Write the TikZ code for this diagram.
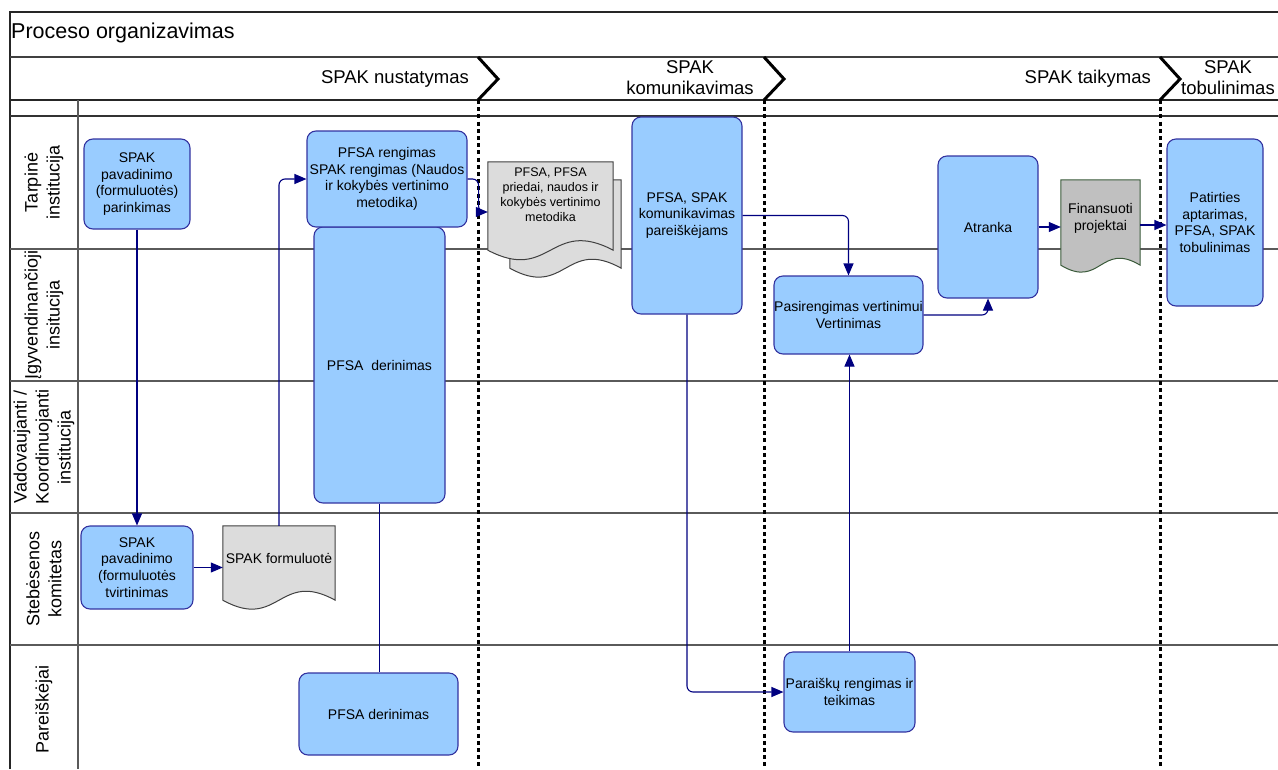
\documentclass[tikz,border=0pt]{standalone}
\usepackage{fontspec}
\setmainfont{Liberation Sans}
\usetikzlibrary{arrows.meta,calc}

\definecolor{boxfill}{HTML}{99CCFF}
\definecolor{boxline}{HTML}{3333A0}
\definecolor{flow}{HTML}{000080}
\definecolor{docfill}{HTML}{DCDCDC}
\definecolor{docline}{HTML}{404040}
\definecolor{fundfill}{HTML}{C0C0C0}
\definecolor{fundline}{HTML}{3A5A3A}
\definecolor{lane}{HTML}{5A5A5A}

\pgfdeclarelayer{back}
\pgfdeclarelayer{docs}
\pgfsetlayers{back,docs,main}

\tikzset{
  proc/.style={draw=boxline, fill=boxfill, line width=1.1pt, rounded corners=9pt,
    align=center, inner sep=0pt, font=\fontsize{14}{16.7}\selectfont},
  doctext/.style={inner sep=0pt, align=center},
  docbody/.style={draw=docline, fill=docfill, line width=1pt},
  fundbody/.style={draw=fundline, fill=fundfill, line width=1pt},
  conn/.style={draw=flow, line width=1.1pt, rounded corners=6pt,
    -{Triangle[length=12pt,width=10pt]}},
  link/.style={draw=flow, line width=1.1pt, rounded corners=6pt},
  lanelabel/.style={rotate=90, align=center, inner sep=0pt,
    font=\fontsize{18}{22}\selectfont},
  phase/.style={font=\fontsize{18.5}{21}\selectfont, align=center, inner sep=0pt},
  stageline/.style={line width=3pt, dash pattern=on 4pt off 3.2pt},
  chevron/.style={line width=3pt, line join=miter},
  gridline/.style={line width=1.2pt, lane},
}

% document outline: straight top and sides, wavy bottom
% #1 node, #2 drop of the sides below the node, #3 wave control offset, #4 style
\newcommand\docoutline[4]{%
  \draw[#4] ($(#1.south west)+(0,#2)$) -- (#1.north west) -- (#1.north east)
    -- ($(#1.south east)+(0,#2)$)
    .. controls ($(#1.south)+(0,#2-#3)$) and ($(#1.south)+(0,#2+#3)$)
    .. ($(#1.south west)+(0,#2)$) -- cycle;}

\begin{document}
\begin{tikzpicture}[x=1pt,y=-1pt]
\useasboundingbox (0,0) rectangle (1278,769);

% frame, header rows and swimlanes
\begin{pgfonlayer}{back}
  \draw[line width=1.2pt, black!85] (10,769) -- (10,12) -- (1278,12);
  \draw[line width=1.2pt, black!75] (10,57) -- (1278,57);
  \draw[line width=1.5pt, black!85] (10,100) -- (1278,100);
  \draw[line width=1.2pt, black!80] (10,116) -- (1278,116);
  \draw[gridline] (78,100) -- (78,769);
  \foreach \y in {249,381,513,645}
    \draw[gridline] (10,\y) -- (1278,\y);
  \foreach \x in {478,764,1160} {
    \draw[chevron] (\x,57) -- (\x+20,79) -- (\x,100);
    \draw[stageline] (\x,100) -- (\x,769);
  }
\end{pgfonlayer}

\node[anchor=west, inner sep=0pt, font=\fontsize{21.5}{24}\selectfont] (title) at (11,33) {Proceso organizavimas};

% phases
\node[phase, anchor=east] (ph1) at (469,79) {SPAK nustatymas};
\node[phase] (ph2) at (690,78) {SPAK\\komunikavimas};
\node[phase, anchor=east] (ph3) at (1151,79) {SPAK taikymas};
\node[phase] (ph4) at (1228,78) {SPAK\\tobulinimas};

% lanes
\node[lanelabel] (ln1) at (44,182.5) {Tarpinė\\institucija};
\node[lanelabel] (ln2) at (44,315) {Įgyvendinančioji\\insitucija};
\node[lanelabel] (ln3) at (44,447) {Vadovaujanti /\\Koordinuojanti\\institucija};
\node[lanelabel] (ln4) at (44,579) {Stebėsenos\\komitetas};
\node[lanelabel] (ln5) at (44,709) {Pareiškėjai};

% process steps
\node[proc, minimum width=106pt, minimum height=90pt] (A) at (137,184)
  {SPAK\\pavadinimo\\(formuluotės)\\parinkimas};
\node[proc, minimum width=131pt, minimum height=276pt] (C) at (379.5,365)
  {PFSA\ \ derinimas};
\node[proc, minimum width=160pt, minimum height=96pt] (B) at (387,179)
  {PFSA rengimas\\SPAK rengimas (Naudos\\ir kokybės vertinimo\\metodika)};
\node[proc, minimum width=112pt, minimum height=83pt] (D) at (137,567.5)
  {SPAK\\pavadinimo\\(formuluotės\\tvirtinimas};
\node[proc, minimum width=159pt, minimum height=82pt] (F) at (378.5,714)
  {PFSA derinimas};
\node[proc, minimum width=110pt, minimum height=197pt] (H) at (687,215.5)
  {PFSA, SPAK\\komunikavimas\\pareiškėjams};
\node[proc, minimum width=149pt, minimum height=78pt] (I) at (848.5,315)
  {Pasirengimas vertinimui\\Vertinimas};
\node[proc, minimum width=100pt, minimum height=142pt] (J) at (988,227)
  {Atranka};
\node[proc, minimum width=96pt, minimum height=167pt] (L) at (1215,222.5)
  {Patirties\\aptarimas,\\PFSA, SPAK\\tobulinimas};
\node[proc, minimum width=131pt, minimum height=80pt] (M) at (849.5,692)
  {Paraiškų rengimas ir\\teikimas};

% documents
\node[doctext, minimum width=112pt, minimum height=64pt, font=\fontsize{14}{16.7}\selectfont]
  (E) at (279,558) {SPAK formuluotė};
\node[doctext, minimum width=125pt, minimum height=65pt, font=\fontsize{12.5}{15}\selectfont]
  (G) at (550.5,194.5) {PFSA, PFSA\\priedai, naudos ir\\kokybės vertinimo\\metodika};
\node[doctext, minimum width=111pt, minimum height=65pt] (G2) at (565.5,212.5) {};
\node[doctext, minimum width=79pt, minimum height=76pt, font=\fontsize{14}{17}\selectfont]
  (K) at (1100.5,218) {Finansuoti\\projektai};

\begin{pgfonlayer}{docs}
  \docoutline{E}{10}{31}{docbody}
  \docoutline{G2}{23}{31}{docbody}
  \docoutline{G}{23}{33}{docbody}
  \docoutline{K}{9}{24}{fundbody}
\end{pgfonlayer}

% flows
\coordinate (gin) at ($(G.west)+(0,17.5)$);
\coordinate (kout) at ($(K.east)+(0,7)$);

\draw[conn] (A.south) -- (D.north);
\draw[conn] (D.east) -- (D.east -| E.west);
\draw[conn] (E.north) |- (B.west);
\draw[link] (C.south) -- (C.south |- F.north);
\draw[conn] (B.east) -- ++(11,0) |- (gin);
\draw[conn] (H.east) -| (I.north);
\draw[conn] (H.south) |- (M.west);
\draw[conn] (M.north) -- (M.north |- I.south);
\draw[conn] (I.east) -| (J.south);
\draw[conn] (J.east) -- (J.east -| K.west);
\draw[conn] (kout) -- (kout -| L.west);

\end{tikzpicture}
\end{document}
